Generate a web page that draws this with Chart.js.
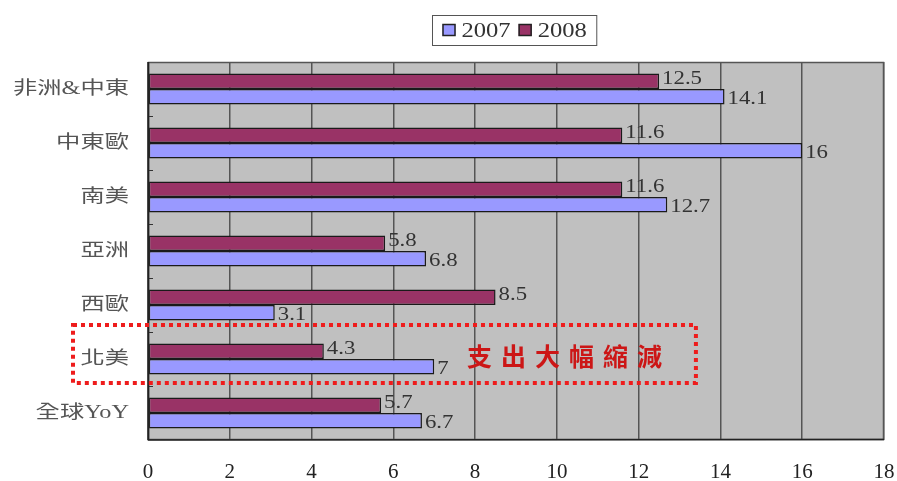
<!DOCTYPE html>
<html>
<head>
<meta charset="utf-8">
<script src="https://cdn.jsdelivr.net/npm/chart.js@4"></script>
<style>
  html, body { margin: 0; padding: 0; background: #fff; }
  #wrap { width: 897px; height: 481px; }
</style>
</head>
<body>
<div id="wrap"><canvas id="myChart" width="897" height="481"></canvas></div>
<script>
const regions = ['非洲&中東', '中東歐', '南美', '亞洲', '西歐', '北美', '全球YoY'];
const data2007 = [14.1, 16, 12.7, 6.8, 3.1, 7, 6.7];
const data2008 = [12.5, 11.6, 11.6, 5.8, 8.5, 4.3, 5.7];
const xTicks = [0, 2, 4, 6, 8, 10, 12, 14, 16, 18];
const noteText = '支出大幅縮減';
const noteRegion = '北美';

const serif = '"Liberation Serif", "DejaVu Serif", serif';
const cjk = '"Noto Sans CJK TC", "Noto Sans", sans-serif';

// the source picture is a bit wide, so text is drawn stretched sideways
function wideText(ctx, text, x, y, align, sx) {
    ctx.save();
    ctx.translate(x, y);
    ctx.scale(sx, 1);
    ctx.textAlign = align;
    ctx.fillText(text, 0, 0);
    ctx.restore();
}

// gray plot area + frame + small inner ticks
const plotBg = {
    id: 'plotBg',
    beforeDraw(chart) {
        const { ctx, chartArea: a } = chart;
        ctx.save();
        ctx.fillStyle = '#c0c0c0';
        ctx.fillRect(a.left, a.top, a.right - a.left, a.bottom - a.top);
        ctx.restore();
    },
    afterDatasetsDraw(chart) {
        const { ctx, chartArea: a, scales } = chart;
        const y = scales.y;
        const step = (a.bottom - a.top) / regions.length;
        ctx.save();
        ctx.strokeStyle = '#333';
        ctx.lineWidth = 1;
        for (let i = 1; i < regions.length; i++) {
            const py = Math.round(y.getPixelForValue(i) - step / 2) + 0.5;
            ctx.beginPath();
            ctx.moveTo(a.left, py);
            ctx.lineTo(a.left + 5, py);
            ctx.stroke();
        }
        ctx.strokeStyle = '#555';
        ctx.lineWidth = 1.5;
        ctx.strokeRect(a.left + 0.5, a.top + 0.5, a.right - a.left - 1, a.bottom - a.top - 1);
        ctx.strokeStyle = '#222';
        ctx.beginPath();
        ctx.moveTo(a.left + 0.5, a.top);
        ctx.lineTo(a.left + 0.5, a.bottom);
        ctx.lineTo(a.right, a.bottom - 0.5);
        ctx.stroke();

        // category names
        ctx.fillStyle = '#555';
        ctx.font = '18px "Liberation Serif", "Noto Sans CJK TC", serif';
        ctx.textBaseline = 'middle';
        regions.forEach((r, i) => {
            wideText(ctx, r, a.left - 19, y.getPixelForValue(i), 'right', 1.35);
        });
        ctx.restore();
    }
};

// value labels at bar ends
const valueLabels = {
    id: 'valueLabels',
    afterDatasetsDraw(chart) {
        const { ctx } = chart;
        ctx.save();
        ctx.font = '19px ' + serif;
        ctx.fillStyle = '#333';
        ctx.textBaseline = 'middle';
        chart.data.datasets.forEach((ds, di) => {
            const meta = chart.getDatasetMeta(di);
            meta.data.forEach((bar, i) => {
                wideText(ctx, String(ds.data[i]), bar.x + 3, bar.y + (di === 0 ? -2 : 2), 'left', 1.2);
            });
        });
        ctx.restore();
    }
};

// boxed legend, 2007 first
const boxLegend = {
    id: 'boxLegend',
    afterDraw(chart) {
        const { ctx } = chart;
        const items = [chart.data.datasets[1], chart.data.datasets[0]];
        const sx = 1.17;
        ctx.save();
        ctx.font = '21px ' + serif;
        ctx.textBaseline = 'middle';
        const sw = 13, gap = 6, itemGap = 8;
        let total = 0;
        items.forEach((d, i) => { total += sw + gap + ctx.measureText(d.label).width * sx + (i ? itemGap : 0); });
        const cx = 514;
        const boxW = total + 20;
        const top = 15, h = 30;
        const left = Math.round(cx - boxW / 2) + 0.5;
        ctx.fillStyle = '#fff';
        ctx.fillRect(left, top, boxW, h);
        ctx.strokeStyle = '#555';
        ctx.lineWidth = 1;
        ctx.strokeRect(left, top + 0.5, boxW, h);
        let x = left + 10;
        const my = top + h / 2 + 0.5;
        items.forEach((d, i) => {
            if (i) x += itemGap;
            ctx.fillStyle = d.backgroundColor;
            ctx.fillRect(x, my - sw / 2, sw, sw - 1);
            ctx.strokeStyle = '#222';
            ctx.lineWidth = 1.5;
            ctx.strokeRect(x + 0.5, my - sw / 2 + 0.5, sw - 1, sw - 2);
            x += sw + gap;
            ctx.fillStyle = '#333';
            wideText(ctx, d.label, x, my + 1, 'left', sx);
            x += ctx.measureText(d.label).width * sx;
        });
        ctx.restore();
    }
};

// red dotted callout around 北美
const callout = {
    id: 'callout',
    afterDraw(chart) {
        const { ctx, chartArea: a, scales } = chart;
        const idx = regions.indexOf(noteRegion);
        const step = (a.bottom - a.top) / regions.length;
        const cy = scales.y.getPixelForValue(idx);
        const top = cy - step / 2 - 7;
        const bottom = cy + step / 2 - 3;
        const left = a.left - 75;
        const right = scales.x.getPixelForValue(13.4);
        ctx.save();
        ctx.strokeStyle = '#ee1c1c';
        ctx.lineWidth = 4;
        ctx.setLineDash([4, 4]);
        ctx.strokeRect(left, top, right - left, bottom - top);
        ctx.setLineDash([]);
        ctx.fillStyle = '#cc1616';
        ctx.font = 'bold 25px ' + cjk;
        ctx.letterSpacing = '9px';
        ctx.textAlign = 'left';
        ctx.textBaseline = 'middle';
        ctx.fillText(noteText, scales.x.getPixelForValue(7.8), cy - 3);
        ctx.restore();
    }
};

const ctx = document.getElementById('myChart').getContext('2d');
const barStyle = {
    borderColor: '#1a1a1a',
    borderWidth: 1.5,
    borderSkipped: false,
    categoryPercentage: 0.57,
    barPercentage: 1
};
const myChart = new Chart(ctx, {
    type: 'bar',
    data: {
        labels: regions,
        datasets: [
            Object.assign({ label: '2008', data: data2008, backgroundColor: '#993366' }, barStyle),
            Object.assign({ label: '2007', data: data2007, backgroundColor: '#9999ff' }, barStyle)
        ]
    },
    options: {
        indexAxis: 'y',
        responsive: false,
        animation: false,
        layout: { padding: { left: 0, right: 13, top: 62, bottom: 0 } },
        scales: {
            x: {
                min: 0,
                max: 18,
                afterBuildTicks(scale) {
                    scale.ticks = xTicks.map(v => ({ value: v }));
                },
                afterFit(scale) {
                    scale.height = 41;
                    scale.paddingLeft = 0;
                    scale.paddingRight = 0;
                },
                grid: { color: '#555', lineWidth: 1.5, drawTicks: false },
                border: { display: false },
                ticks: {
                    padding: 20,
                    color: '#222',
                    font: { family: serif, size: 21 }
                }
            },
            y: {
                afterFit(scale) { scale.width = 148; },
                grid: { display: false },
                border: { display: false },
                ticks: { display: false }
            }
        },
        plugins: {
            legend: { display: false },
            tooltip: { enabled: false }
        }
    },
    plugins: [plotBg, valueLabels, boxLegend, callout]
});
</script>
</body>
</html>
